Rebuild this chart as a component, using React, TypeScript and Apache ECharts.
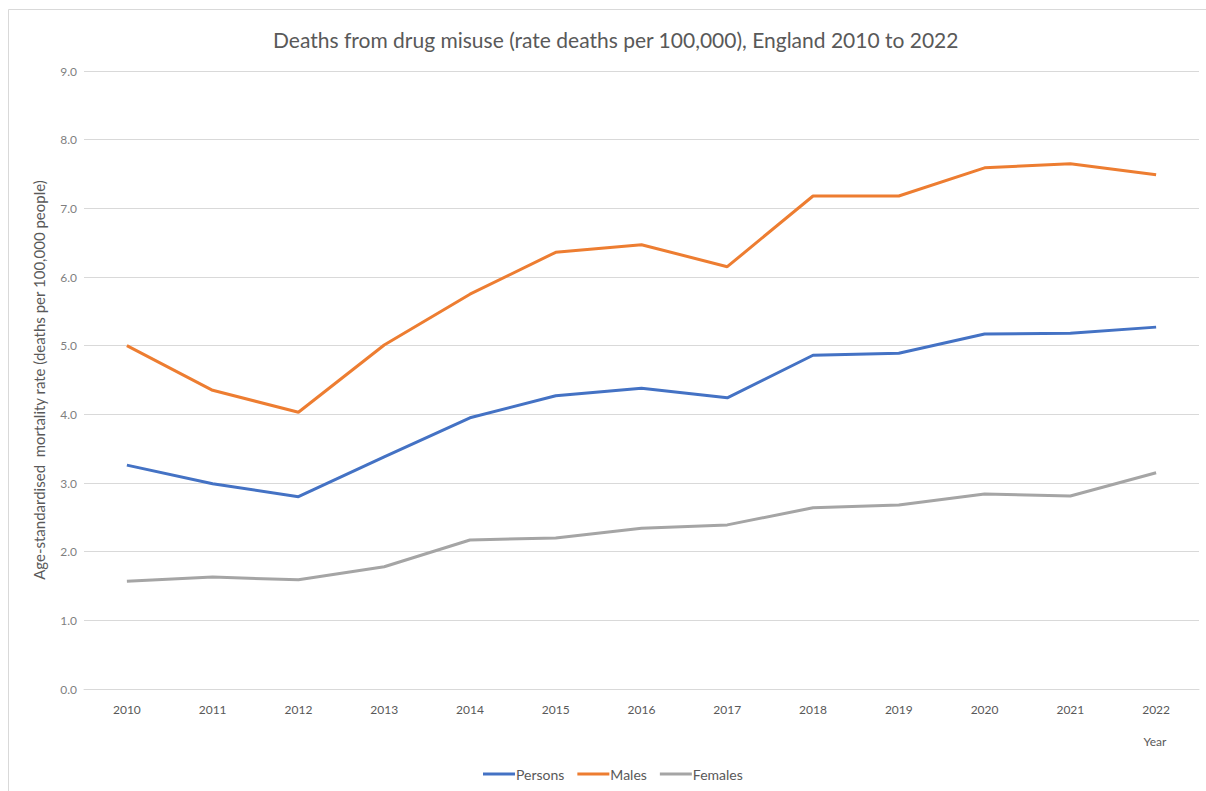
import React, { useEffect, useRef } from "react";
import * as echarts from "echarts";

const years = ["2010", "2011", "2012", "2013", "2014", "2015", "2016", "2017", "2018", "2019", "2020", "2021", "2022"];
const persons = [3.26, 2.99, 2.8, 3.38, 3.95, 4.27, 4.38, 4.24, 4.86, 4.89, 5.17, 5.18, 5.27];
const males = [5.0, 4.35, 4.03, 5.01, 5.75, 6.36, 6.47, 6.15, 7.18, 7.18, 7.59, 7.65, 7.49];
const females = [1.57, 1.63, 1.59, 1.78, 2.17, 2.2, 2.34, 2.39, 2.64, 2.68, 2.84, 2.81, 3.15];

const FONT = "Lato, 'Open Sans', sans-serif";

export default function App() {
  const ref = useRef<HTMLDivElement>(null);

  useEffect(() => {
    if (!ref.current) return;
    const chart = echarts.init(ref.current, undefined, { renderer: "svg" });
    const line = (name: string, data: number[], color: string) => ({
      name,
      type: "line",
      data,
      symbol: "none",
      smooth: false,
      lineStyle: { color, width: 3 },
      itemStyle: { color },
    });
    chart.setOption({
      animation: false,
      backgroundColor: "#ffffff",
      textStyle: { fontFamily: FONT },
      title: {
        text: "Deaths from drug misuse (rate deaths per 100,000), England 2010 to 2022",
        left: 268,
        top: 24,
        textStyle: { fontFamily: FONT, fontSize: 21, fontWeight: "normal", color: "#595959" },
      },
      grid: { left: 84, right: 7, top: 71, bottom: 102, containLabel: false },
      legend: {
        bottom: 5,
        left: 478,
        icon: "rect",
        itemWidth: 32,
        itemHeight: 3,
        itemGap: 13,
        textStyle: { fontFamily: FONT, fontSize: 14, color: "#595959", padding: [0, 0, 0, -4] },
        data: ["Persons", "Males", "Females"],
      },
      xAxis: {
        type: "category",
        data: years,
        boundaryGap: true,
        axisLine: { show: true, lineStyle: { color: "#d9d9d9", width: 1 } },
        axisTick: { show: false },
        axisLabel: { color: "#595959", fontSize: 12, margin: 14, fontFamily: FONT },
      },
      yAxis: {
        type: "value",
        min: 0,
        max: 9,
        interval: 1,
        name: "Age-standardised  mortality rate (deaths per 100,000 people)",
        nameLocation: "middle",
        nameGap: 38,
        nameTextStyle: { color: "#595959", fontSize: 15, fontFamily: FONT },
        axisLine: { show: false },
        axisTick: { show: false },
        splitLine: { lineStyle: { color: "#d9d9d9", width: 1 } },
        axisLabel: {
          color: "#7f7f7f",
          fontSize: 12,
          margin: 7,
          fontFamily: FONT,
          formatter: (v: number) => v.toFixed(1),
        },
      },
      graphic: [
        {
          type: "rect",
          silent: true,
          shape: { x: 8.5, y: 9.5, width: 1210, height: 800 },
          style: { fill: "none", stroke: "#d9d9d9", lineWidth: 1 },
          z: -1,
        },
        {
          type: "text",
          x: 1155,
          y: 741,
          style: {
            text: "Year",
            fill: "#595959",
            fontSize: 12,
            fontFamily: FONT,
            textAlign: "center",
            textVerticalAlign: "middle",
          },
        },
      ],
      series: [
        line("Persons", persons, "#4472c4"),
        line("Males", males, "#ed7d31"),
        line("Females", females, "#a5a5a5"),
      ],
    });
    return () => chart.dispose();
  }, []);

  return (
    <div
      ref={ref}
      style={{ position: "absolute", left: 0, top: 0, width: 1206, height: 791 }}
    />
  );
}
